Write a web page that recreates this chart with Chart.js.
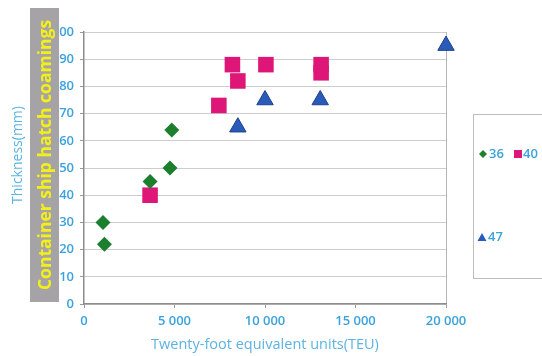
<!DOCTYPE html>
<html>
<head>
<meta charset="utf-8">
<script src="https://cdn.jsdelivr.net/npm/chart.js@4"></script>
<style>
  html, body { margin: 0; padding: 0; background: #fff; }
  #wrap { width: 542px; height: 356px; position: relative; }
</style>
</head>
<body>
<div id="wrap"><canvas id="chart"></canvas></div>
<script>
// Hatch coaming thickness vs ship size (TEU)
const xTicks = [0, 5000, 10000, 15000, 20000];
const yTicks = [0, 10, 20, 30, 40, 50, 60, 70, 80, 90, 100];

const teu36 = [1050, 1130, 3650, 4750, 4850];
const thk36 = [30, 22, 45, 50, 64];

const teu40 = [3650, 7450, 8200, 8500, 10050, 13100, 13100];
const thk40 = [40, 73, 88, 82, 88, 88, 85];

const teu47 = [8500, 10000, 13050, 20000];
const thk47 = [65, 75, 75, 95];

const BLUE_TEXT = '#3ba2dc';
const COLORS = {
    green: '#1b7f2d',
    pink: '#de1678',
    blue: '#2a5bb8',
    blueEdge: '#1d418f'
};

function toPoints(xs, ys) {
    return xs.map((x, i) => ({ x: x, y: ys[i] }));
}

// Titles, grey label box and the little legend panel
const decorations = {
    id: 'decorations',
    afterDraw(chart) {
        const ctx = chart.ctx;
        ctx.save();

        // y title
        ctx.translate(18, 155);
        ctx.rotate(-Math.PI / 2);
        ctx.fillStyle = '#5cb3e2';
        ctx.font = '14px "Open Sans"';
        ctx.textAlign = 'center';
        ctx.textBaseline = 'middle';
        ctx.fillText('Thickness(mm)', 0, 0);
        ctx.restore();

        // grey box with yellow label
        ctx.save();
        ctx.fillStyle = '#a6a3a6';
        ctx.fillRect(30, 8, 29, 294);
        ctx.translate(45, 155);
        ctx.rotate(-Math.PI / 2);
        ctx.fillStyle = '#f3f019';
        ctx.font = 'bold 17.5px "Open Sans"';
        ctx.textAlign = 'center';
        ctx.textBaseline = 'middle';
        ctx.fillText('Container ship hatch coamings', 0, 1);
        ctx.restore();

        // x title
        ctx.save();
        ctx.fillStyle = '#5cb3e2';
        ctx.font = '14.5px "Open Sans"';
        ctx.textAlign = 'center';
        ctx.textBaseline = 'middle';
        ctx.fillText('Twenty-foot equivalent units(TEU)', 265, 345);
        ctx.restore();

        // legend panel
        ctx.save();
        ctx.strokeStyle = '#bdbdbd';
        ctx.lineWidth = 1;
        ctx.strokeRect(473.5, 114.5, 80, 164);
        ctx.font = '600 13px "Open Sans"';
        ctx.textBaseline = 'middle';
        ctx.fillStyle = COLORS.green;
        ctx.beginPath();
        ctx.moveTo(479, 154); ctx.lineTo(483, 150); ctx.lineTo(487, 154); ctx.lineTo(483, 158);
        ctx.closePath(); ctx.fill();
        ctx.fillStyle = BLUE_TEXT;
        ctx.fillText('36', 489, 154);
        ctx.fillStyle = COLORS.pink;
        ctx.fillRect(514, 150, 8, 8);
        ctx.fillStyle = BLUE_TEXT;
        ctx.fillText('40', 523, 154);
        ctx.fillStyle = COLORS.blue;
        ctx.beginPath();
        ctx.moveTo(482, 233); ctx.lineTo(486.5, 241); ctx.lineTo(477.5, 241);
        ctx.closePath(); ctx.fill();
        ctx.fillStyle = BLUE_TEXT;
        ctx.fillText('47', 488, 237);
        ctx.restore();
    }
};

const tickFont = { family: '"Open Sans"', size: 13, weight: '600' };

new Chart(document.getElementById('chart'), {
    type: 'scatter',
    data: {
        datasets: [
            {
                label: '36',
                data: toPoints(teu36, thk36),
                pointStyle: 'rectRot',
                pointRadius: 7.5,
                pointHoverRadius: 7.5,
                backgroundColor: COLORS.green,
                borderColor: COLORS.green,
                borderWidth: 0,
                clip: false
            },
            {
                label: '40',
                data: toPoints(teu40, thk40),
                pointStyle: 'rect',
                pointRadius: 11,
                pointHoverRadius: 11,
                backgroundColor: COLORS.pink,
                borderColor: COLORS.pink,
                borderWidth: 0,
                clip: false
            },
            {
                label: '47',
                data: toPoints(teu47, thk47),
                pointStyle: 'triangle',
                pointRadius: 9.5,
                pointHoverRadius: 9.5,
                backgroundColor: COLORS.blue,
                borderColor: COLORS.blueEdge,
                borderWidth: 1,
                clip: false
            }
        ]
    },
    options: {
        responsive: true,
        maintainAspectRatio: false,
        animation: false,
        layout: { padding: { left: 0, top: 32, right: 96, bottom: 0 } },
        plugins: {
            legend: { display: false },
            tooltip: { enabled: false }
        },
        scales: {
            x: {
                type: 'linear',
                min: 0,
                max: 20000,
                afterBuildTicks: (scale) => { scale.ticks = xTicks.map(v => ({ value: v })); },
                afterFit: (scale) => { scale.height = 52; },
                grid: {
                    color: (c) => c.tick && c.tick.value === 20000 ? '#b5b5b5' : 'rgba(0,0,0,0)',
                    tickColor: '#9a9a9a',
                    tickLength: 4
                },
                border: { color: '#8c8c8c', width: 1.5 },
                ticks: {
                    color: BLUE_TEXT,
                    font: tickFont,
                    padding: 5,
                    maxRotation: 0,
                    callback: (v) => v === 0 ? '0' : Math.floor(v / 1000) + ' ' + String(v % 1000).padStart(3, '0')
                }
            },
            y: {
                min: 0,
                max: 100,
                afterBuildTicks: (scale) => { scale.ticks = yTicks.map(v => ({ value: v })); },
                afterFit: (scale) => { scale.width = 84; },
                grid: {
                    color: '#cdcdcd',
                    tickColor: '#9a9a9a',
                    tickLength: 4
                },
                border: { color: '#8c8c8c', width: 1.5 },
                ticks: {
                    color: BLUE_TEXT,
                    font: tickFont,
                    padding: 6
                }
            }
        }
    },
    plugins: [decorations]
});
</script>
</body>
</html>
